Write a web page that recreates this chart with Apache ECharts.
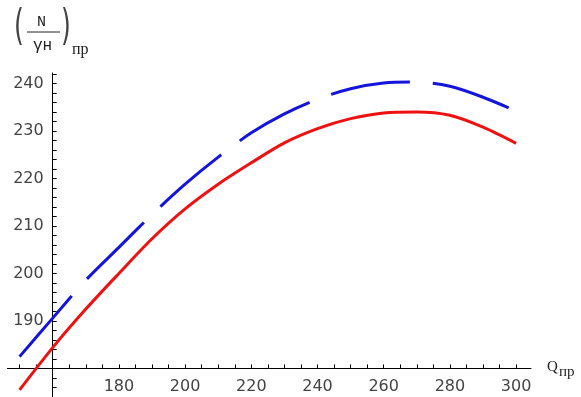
<!DOCTYPE html>
<html>
<head>
<meta charset="utf-8">
<script src="https://cdn.jsdelivr.net/npm/echarts@6/dist/echarts.min.js"></script>
<style>
html,body{margin:0;padding:0;background:#fff;}
#c{width:581px;height:397px;}
</style>
</head>
<body>
<div id="c"></div>
<script>
// Data
const xValues = [150, 160, 170, 180, 190, 200, 210, 220, 230, 240, 250, 260, 270, 280, 290, 300];
const redValues = [175.5, 184.4, 192.5, 200.0, 207.3, 213.6, 218.8, 223.3, 227.5, 230.5, 232.6, 233.8, 234.0, 233.3, 230.8, 227.4];
const blueValues = [182.5, 190.6, 198.6, 205.5, 212.4, 218.8, 224.5, 229.6, 233.6, 236.7, 238.9, 240.1, 240.3, 239.4, 237.1, 234.2];
const xTickLabels = [180, 200, 220, 240, 260, 280, 300];
const yTickLabels = [190, 200, 210, 220, 230, 240];
const xMinorTicks = [150,155,160,165,170,175,180,185,190,195,200,205,210,215,220,225,230,235,240,245,250,255,260,265,270,275,280,285,290,295,300];
const yMinorTicks = [176,178,180,182,184,186,188,190,192,194,196,198,200,202,204,206,208,210,212,214,216,218,220,222,224,226,228,230,232,234,236,238,240,242];

const chart = echarts.init(document.getElementById('c'), null, {renderer: 'canvas'});

const gridLeft = 7.35, gridTop = 73, gridWidth = 523.65, gridHeight = 324.6;
const xMin = 146.3, xMax = 304.5, yMin = 174.0, yMax = 242.2;
const xCross = 160, yCross = 180;
const xAxisOffset = -(gridHeight * (yCross - yMin) / (yMax - yMin));
const yAxisOffset = -(gridWidth * (xCross - xMin) / (xMax - xMin));

const labelFont = {fontFamily: 'DejaVu Sans', fontSize: 16, color: '#444'};

chart.setOption({
  backgroundColor: '#fff',
  animation: false,
  grid: {left: gridLeft, top: gridTop, width: gridWidth, height: gridHeight, containLabel: false},
  xAxis: {
    type: 'value', min: xMin, max: xMax, position: 'bottom', offset: xAxisOffset,
    axisLine: {show: true, onZero: false, lineStyle: {color: '#000', width: 1}},
    axisTick: {show: true, inside: true, length: 4, customValues: xMinorTicks, lineStyle: {color: '#000'}},
    axisLabel: Object.assign({show: true, margin: 10, customValues: xTickLabels}, labelFont),
    splitLine: {show: false}
  },
  yAxis: {
    type: 'value', min: yMin, max: yMax, position: 'left', offset: yAxisOffset,
    axisLine: {show: true, onZero: false, lineStyle: {color: '#000', width: 1}},
    axisTick: {show: true, inside: true, length: 4, customValues: yMinorTicks, lineStyle: {color: '#000'}},
    axisLabel: Object.assign({show: true, margin: 9, customValues: yTickLabels}, labelFont),
    splitLine: {show: false}
  },
  series: [
    {
      type: 'line', name: 'red', smooth: 0.3, symbol: 'none',
      data: xValues.map((x, i) => [x, redValues[i]]),
      lineStyle: {color: '#ee1111', width: 3}
    },
    {
      type: 'line', name: 'blue', smooth: 0.3, symbol: 'none',
      data: xValues.map((x, i) => [x, blueValues[i]]),
      lineStyle: {color: '#1414dc', width: 3, type: [80, 23], cap: 'butt'}
    }
  ],
  graphic: [
    {type: 'text', x: 14, y: 8, scaleX: 0.6, style: {text: '(', font: '42px "DejaVu Sans"', fill: '#444'}},
    {type: 'text', x: 37, y: 15, style: {text: 'N', font: '15px "Liberation Mono"', fill: '#222'}},
    {type: 'line', shape: {x1: 27, y1: 32, x2: 60, y2: 32}, style: {stroke: '#222', lineWidth: 1}},
    {type: 'text', x: 33, y: 38, style: {text: 'γн', font: '16px "Liberation Mono"', fill: '#222'}},
    {type: 'text', x: 61, y: 8, scaleX: 0.6, style: {text: ')', font: '42px "DejaVu Sans"', fill: '#444'}},
    {type: 'text', x: 72, y: 42, style: {text: 'пр', font: '16px "Liberation Serif"', fill: '#222'}},
    {type: 'text', x: 547, y: 360, style: {text: 'Q', font: '15px "Liberation Serif"', fill: '#222'}},
    {type: 'text', x: 559, y: 365, style: {text: 'пр', font: '15px "Liberation Serif"', fill: '#222'}}
  ]
});
</script>
</body>
</html>
